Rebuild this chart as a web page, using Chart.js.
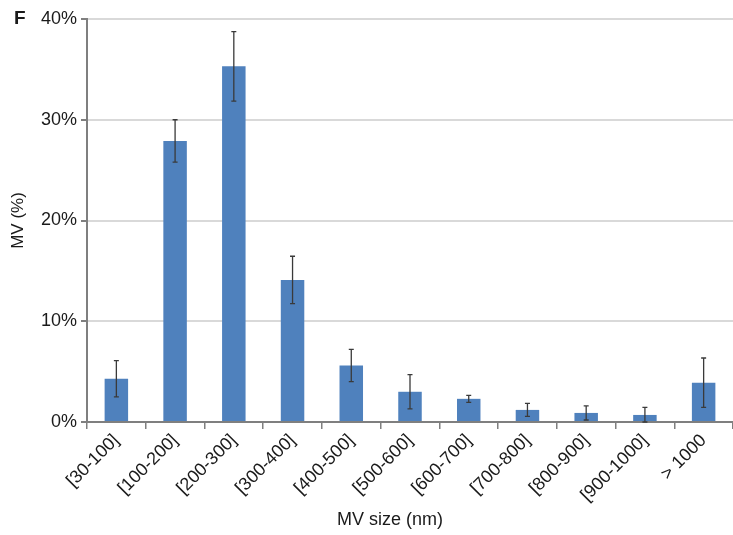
<!DOCTYPE html>
<html>
<head>
<meta charset="utf-8">
<script src="https://cdn.jsdelivr.net/npm/chart.js@4/dist/chart.umd.min.js"></script>
<style>
  body { margin: 0; background: #fff; }
  #wrap { position: relative; width: 733px; height: 535px; }
  .lbl { position: absolute; font-family: "Liberation Sans", Arial, sans-serif; color: #1a1a1a; }
  #panel { left: 14px; top: 7px; font-size: 19px; font-weight: bold; }
  #xtitle { left: 290px; width: 200px; text-align: center; top: 509px; font-size: 18px; }
</style>
</head>
<body>
<div id="wrap">
  <canvas id="myChart" width="733" height="535"></canvas>
  <div class="lbl" id="panel">F</div>
  <div class="lbl" id="xtitle">MV size (nm)</div>
</div>
<script>
var sizeBins = ["[30-100]", "[100-200]", "[200-300]", "[300-400]", "[400-500]", "[500-600]",
  "[600-700]", "[700-800]", "[800-900]", "[900-1000]", "> 1000"];
var mvPercent = [4.3, 27.9, 35.3, 14.1, 5.6, 3.0, 2.3, 1.2, 0.9, 0.7, 3.9];
var mvError = [1.8, 2.1, 3.45, 2.35, 1.6, 1.7, 0.35, 0.65, 0.7, 0.75, 2.45];
var yTicks = [0, 10, 20, 30, 40];

var fontFamily = "'Liberation Sans', Arial, sans-serif";

// error bars drawn through the y scale
var errorBars = {
  id: "errorBars",
  afterDatasetsDraw: function(chart) {
    var ctx = chart.ctx;
    var y = chart.scales.y;
    var meta = chart.getDatasetMeta(0);
    ctx.save();
    ctx.strokeStyle = "#3a3a3a";
    ctx.lineWidth = 1.3;
    meta.data.forEach(function(bar, i) {
      var top = y.getPixelForValue(mvPercent[i] + mvError[i]);
      var bot = y.getPixelForValue(Math.max(0, mvPercent[i] - mvError[i]));
      ctx.beginPath();
      ctx.moveTo(bar.x, top);
      ctx.lineTo(bar.x, bot);
      ctx.moveTo(bar.x - 2.5, top);
      ctx.lineTo(bar.x + 2.5, top);
      ctx.moveTo(bar.x - 2.5, bot);
      ctx.lineTo(bar.x + 2.5, bot);
      ctx.stroke();
    });
    ctx.restore();
  }
};

var ctx = document.getElementById("myChart").getContext("2d");
var myChart = new Chart(ctx, {
  type: "bar",
  data: {
    labels: sizeBins,
    datasets: [{
      label: "MV (%)",
      data: mvPercent,
      backgroundColor: "#4f81bd",
      borderWidth: 0,
      categoryPercentage: 1,
      barPercentage: 0.4
    }]
  },
  plugins: [errorBars],
  options: {
    responsive: false,
    animation: false,
    layout: { padding: { top: 19, right: 0, bottom: 0, left: 0 } },
    plugins: {
      legend: { display: false },
      tooltip: { enabled: false }
    },
    scales: {
      x: {
        afterFit: function(s) { s.height = 113; },
        grid: {
          offset: true,
          drawOnChartArea: false,
          tickLength: 7,
          color: "#7f7f7f",
          lineWidth: 1.5
        },
        border: { color: "#7f7f7f", width: 2 },
        ticks: {
          minRotation: 45,
          maxRotation: 45,
          color: "#1a1a1a",
          padding: 1,
          font: { family: fontFamily, size: 18 }
        }
      },
      y: {
        min: 0,
        max: 40,
        afterFit: function(s) { s.width = 87; },
        afterBuildTicks: function(s) {
          s.ticks = yTicks.map(function(v) { return { value: v }; });
        },
        grid: {
          color: "#d9d9d9",
          lineWidth: 2,
          tickLength: 6,
          tickColor: "#7f7f7f"
        },
        border: { color: "#7f7f7f", width: 2 },
        ticks: {
          color: "#1a1a1a",
          padding: 4,
          font: { family: fontFamily, size: 18 },
          callback: function(v) { return v + "%"; }
        },
        title: {
          display: true,
          text: "MV (%)",
          color: "#1a1a1a",
          padding: { top: 8, bottom: 0 },
          font: { family: fontFamily, size: 17 }
        }
      }
    }
  }
});
</script>
</body>
</html>
